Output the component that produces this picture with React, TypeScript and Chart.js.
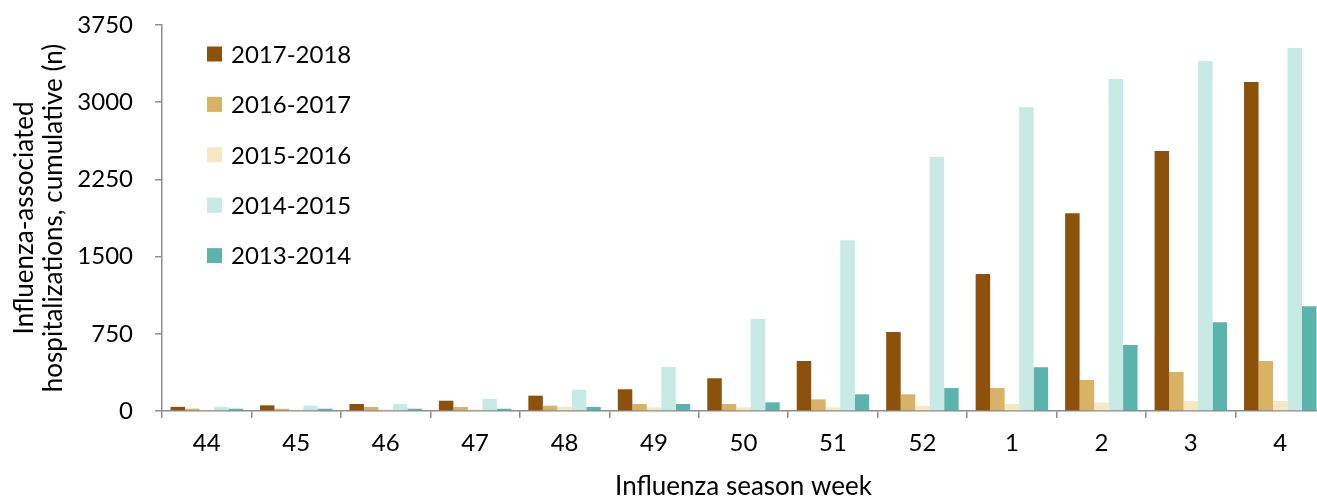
import React, { useEffect, useRef } from "react";
import { Chart, registerables } from "chart.js";

Chart.register(...registerables);

const weeks = ["44", "45", "46", "47", "48", "49", "50", "51", "52", "1", "2", "3", "4"];
const season1718 = [40, 55, 68, 100, 149, 211, 318, 486, 767, 1331, 1921, 2526, 3196];
const season1617 = [22, 22, 39, 39, 52, 68, 68, 113, 162, 223, 301, 379, 486];
const season1516 = [12, 14, 15, 15, 39, 36, 36, 36, 49, 68, 84, 97, 97];
const season1415 = [40, 52, 68, 117, 207, 427, 894, 1658, 2468, 2950, 3225, 3400, 3526];
const season1314 = [22, 22, 22, 22, 39, 68, 84, 162, 223, 425, 641, 862, 1017];
const seriesLabels = ["2017-2018", "2016-2017", "2015-2016", "2014-2015", "2013-2014"];
const seriesColors = ["#8C510A", "#D8B365", "#F6E8C3", "#C7EAE5", "#5AB4AC"];
const yTicks = [0, 750, 1500, 2250, 3000, 3750];

const FONT = "Lato, 'Noto Sans', sans-serif";

const insideLegend = {
  id: "insideLegend",
  afterDraw(chart: any) {
    const ctx = chart.ctx;
    const { left, top } = chart.chartArea;
    ctx.save();
    ctx.font = `24px ${FONT}`;
    ctx.textBaseline = "middle";
    ctx.textAlign = "left";
    chart.data.datasets.forEach((ds: any, i: number) => {
      const cy = top + 29 + i * 50.4;
      ctx.fillStyle = ds.backgroundColor;
      ctx.fillRect(left + 45, cy - 7.5, 15, 15);
      ctx.fillStyle = "#000";
      ctx.fillText(ds.label, left + 69, cy + 1);
    });
    ctx.restore();
  },
};

export default function App() {
  const ref = useRef<HTMLCanvasElement>(null);
  useEffect(() => {
    document.body.style.margin = "0";
    document.body.style.overflow = "hidden";
    const values = [season1718, season1617, season1516, season1415, season1314];
    const chart = new Chart(ref.current!, {
      type: "bar",
      data: {
        labels: weeks,
        datasets: values.map((v, i) => ({
          label: seriesLabels[i],
          data: v,
          backgroundColor: seriesColors[i],
          borderWidth: 0,
          categoryPercentage: 0.81,
          barPercentage: 1.0,
        })),
      },
      options: {
        responsive: false,
        animation: false,
        layout: { padding: { top: 25, right: 5, left: 0, bottom: 0 } },
        plugins: { legend: { display: false }, tooltip: { enabled: false } },
        scales: {
          x: {
            grid: {
              offset: true,
              drawOnChartArea: false,
              drawTicks: true,
              tickLength: 7,
              color: "#8c8c8c",
              lineWidth: 1.5,
            },
            border: { display: true, color: "#8c8c8c", width: 1.5 },
            ticks: { color: "#000", font: { family: FONT, size: 24 }, padding: 11, maxRotation: 0 },
            title: {
              display: true,
              text: "Influenza season week",
              color: "#000",
              font: { family: FONT, size: 26, lineHeight: 1.0 },
              padding: { top: 4, bottom: 0 },
            },
            afterFit(scale: any) {
              scale.height = 89;
              scale.paddingLeft = 0;
              scale.paddingRight = 0;
            },
          },
          y: {
            min: 0,
            max: 3750,
            afterBuildTicks(scale: any) {
              scale.ticks = yTicks.map((v) => ({ value: v }));
            },
            grid: {
              drawOnChartArea: false,
              drawTicks: true,
              tickLength: 7,
              color: "#8c8c8c",
              lineWidth: 1.5,
            },
            border: { display: true, color: "#8c8c8c", width: 1.5 },
            ticks: {
              color: "#000",
              font: { family: FONT, size: 24 },
              padding: 22,
              callback: (v: any) => String(v),
            },
            title: {
              display: true,
              text: ["Influenza-associated", "hospitalizations, cumulative (n)"],
              color: "#000",
              font: { family: FONT, size: 26, lineHeight: 1.08 },
              padding: { top: 11, bottom: 0 },
            },
            afterFit(scale: any) {
              scale.width = 162;
              scale.paddingTop = 0;
              scale.paddingBottom = 0;
            },
          },
        },
      },
      plugins: [insideLegend],
    });
    return () => chart.destroy();
  }, []);
  return <canvas ref={ref} width={1330} height={500} style={{ display: "block" }} />;
}
